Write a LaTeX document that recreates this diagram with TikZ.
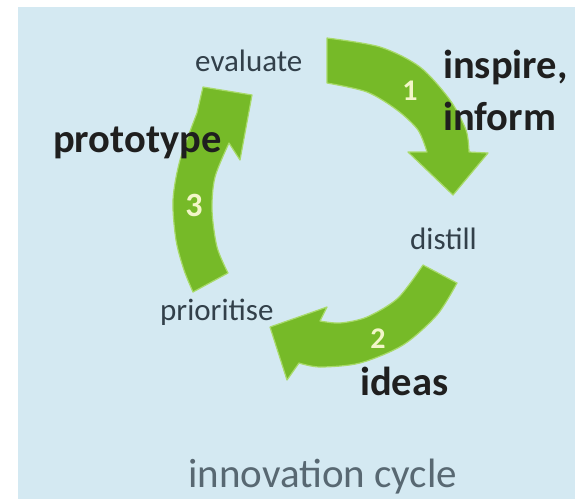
\documentclass[tikz,border=0pt]{standalone}
\usepackage{fontspec}
\setmainfont{Carlito}
\definecolor{sfondo}{RGB}{212,233,242}
\definecolor{verde}{RGB}{118,186,40}
\definecolor{bordoverde}{RGB}{168,218,106}
\definecolor{grigiofase}{RGB}{50,64,74}
\definecolor{grigiotitolo}{RGB}{88,104,114}
\definecolor{crema}{RGB}{242,246,200}

\begin{document}
\begin{tikzpicture}[x=1pt, y=-1pt,
        freccia/.style={fill=verde, draw=bordoverde, line width=1.2pt, line join=round},
        fase/.style={text=grigiofase, font=\fontsize{31}{31}\selectfont, inner sep=0pt, anchor=base west},
        azione/.style={text=black!88, font=\fontsize{40.5}{40.5}\selectfont\bfseries, inner sep=0pt, anchor=base west},
        numero/.style={text=crema, font=\fontsize{30}{30}\selectfont\bfseries, inner sep=0pt}]
        \useasboundingbox (0,0) rectangle (575,499);
        % Sfondo
        \fill[sfondo] (18,7) rectangle (575,499);

        % Freccia 1: da evaluate a distill
        \filldraw[freccia] plot[smooth] coordinates {(327,38) (380,47) (420,67) (450,100) (466,130) (469,152)}
            -- (488,153) -- (453,195) -- (408,152)
            -- plot[smooth] coordinates {(427,152) (418,130) (397,110) (367,92) (327,83)} -- cycle;

        % Freccia 2: da distill a prioritise
        \filldraw[freccia] plot[smooth] coordinates {(457,283) (437,315) (403,345) (360,363) (320,367) (299,363)}
            -- (287,380) -- (270,327) -- (327,307)
            -- plot[smooth] coordinates {(320,321) (340,323) (367,317) (398,298) (423,265)} -- cycle;

        % Freccia 3: da prioritise a evaluate
        \filldraw[freccia] plot[smooth] coordinates {(228,273) (217,247) (212,210) (215,177) (229,143)}
            -- (240,160) -- (252,95) -- (203,87)
            -- plot[smooth] coordinates {(197,113) (180,160) (173,200) (176,240) (184,270) (193,292)} -- cycle;

        % Fasi del ciclo
        \node[fase] (evaluate) at (195,71) {evaluate};
        \node[fase] (distill) at (410,249) {distill};
        \node[fase] (prioritise) at (160,320) {prioritise};

        % Azioni
        \node[azione] (inspire) at (443,78) {inspire,};
        \node[azione] (inform) at (443,130) {inform};
        \node[azione] (prototype) at (53,152) {prototype};
        \node[azione] (ideas) at (360,395) {ideas};

        % Numeri sulle frecce
        \node[numero] (uno) at (410,91) {1};
        \node[numero] (due) at (378,339) {2};
        \node[numero, font=\fontsize{34}{34}\selectfont\bfseries] (tre) at (194,205) {3};

        \node[text=grigiotitolo, font=\fontsize{41}{41}\selectfont, inner sep=0pt, anchor=base west] (titolo) at (188,487) {innovation cycle};
    \end{tikzpicture}
\end{document}
